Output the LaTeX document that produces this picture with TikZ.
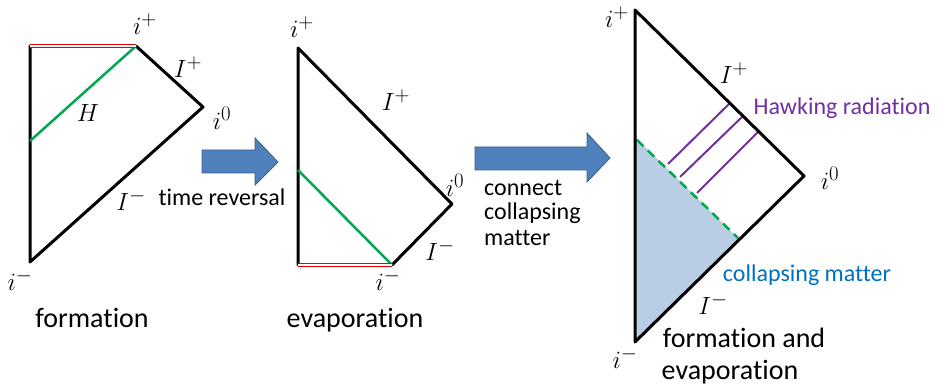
\documentclass[tikz,border=0pt]{standalone}
\usepackage{fontspec}
\setmainfont{Carlito}[Ligatures=NoCommon]
\definecolor{arrowblue}{RGB}{79,129,189}
\definecolor{arrowedge}{RGB}{56,93,138}
\definecolor{shadeblue}{RGB}{185,205,229}
\definecolor{hgreen}{RGB}{0,168,80}
\definecolor{hpurple}{RGB}{112,48,160}
\definecolor{cblue}{RGB}{0,112,192}
\definecolor{hred}{RGB}{230,0,0}
\begin{document}
\begin{tikzpicture}[x=1pt,y=-1pt,
  bl/.style={line width=3pt, line join=round, line cap=round},
  gr/.style={hgreen, line width=2.5pt},
  rd/.style={hred, line width=1.4pt, double=white, double distance=1.2pt},
  pu/.style={hpurple, line width=2pt},
  ml/.style={inner sep=0pt, font=\fontsize{30}{32}\selectfont},
  big/.style={inner sep=0pt, font=\fontsize{28}{30}\selectfont},
  small/.style={inner sep=0pt, font=\fontsize{24}{26}\selectfont},
  barrow/.style={fill=arrowblue, draw=arrowedge, line width=0.8pt, line join=miter}]
\useasboundingbox (0,0) rectangle (937,387);
% ---------- formation ----------
\coordinate (a1t) at (30,46);
\coordinate (a1p) at (136,46);
\coordinate (a1o) at (203,107);
\coordinate (a1b) at (30,262);
\coordinate (a1h) at (30,141);
\draw[bl] (a1t) -- (a1b) -- (a1o) -- (a1p);
\draw[gr] (a1h) -- (a1p);
\draw[rd] (a1t) -- (a1p);
\node[ml] (a1ip) at (145,24) {$i^+$};
\node[ml] (a1Ip) at (188,67) {$I^+$};
\node[ml] (a1H) at (88,113) {$H$};
\node[ml] (a1io) at (222,118) {$i^0$};
\node[ml] (a1Im) at (131,200) {$I^-$};
\node[ml] (a1im) at (20,280) {$i^-$};
\node[big] (a1lab) at (92,318) {formation};
% ---------- arrow 1 ----------
\draw[barrow] (202,150) -- (255,150) -- (255,138) -- (278,162) -- (255,185) -- (255,173) -- (202,173) -- cycle;
\node[small] (tr) at (222,197) {time reversal};
% ---------- evaporation ----------
\coordinate (b2t) at (298,48);
\coordinate (b2o) at (452,204);
\coordinate (b2m) at (392,265);
\coordinate (b2b) at (298,265);
\coordinate (b2h) at (298,170);
\draw[bl] (b2b) -- (b2t) -- (b2o) -- (b2m);
\draw[gr] (b2h) -- (b2m);
\draw[rd] (b2b) -- (b2m);
\node[ml] (b2ip) at (302,27) {$i^+$};
\node[ml] (b2Ip) at (396,100) {$I^+$};
\node[ml] (b2io) at (455,185) {$i^0$};
\node[ml] (b2Im) at (440,250) {$I^-$};
\node[ml] (b2im) at (388,280) {$i^-$};
\node[big] (b2lab) at (355,320) {evaporation};
% ---------- arrow 2 ----------
\draw[barrow] (475,147) -- (587,147) -- (587,133) -- (610,158) -- (587,182) -- (587,170) -- (475,170) -- cycle;
\node[small, anchor=west] (cc1) at (484,188) {connect};
\node[small, anchor=west] (cc2) at (484,213) {collapsing};
\node[small, anchor=west] (cc3) at (484,238) {matter};
% ---------- formation and evaporation ----------
\coordinate (c3t) at (635,10);
\coordinate (c3o) at (804,176);
\coordinate (c3b) at (635,342);
\coordinate (c3h) at (635,137);
\coordinate (c3m) at (740,240);
\coordinate (c3ds) at (637,140);
\coordinate (c3de) at (738,238);
\fill[fill=shadeblue] (c3h) -- (c3m) -- (c3b) -- cycle;
\draw[hgreen, line width=2.5pt, dash pattern=on 9pt off 6pt] (c3ds) -- (c3de);
\coordinate (p1s) at (668,164); \coordinate (p1e) at (730,103);
\coordinate (p2s) at (680,177); \coordinate (p2e) at (743,116);
\coordinate (p3s) at (697,193); \coordinate (p3e) at (758,132);
\draw[pu] (p1s) -- (p1e);
\draw[pu] (p2s) -- (p2e);
\draw[pu] (p3s) -- (p3e);
\draw[bl] (c3b) -- (c3t) -- (c3o) -- cycle;
\node[ml] (c3ip) at (617,17) {$i^+$};
\node[ml] (c3Ip) at (734,73) {$I^+$};
\node[small, text=hpurple] (hr) at (842,108) {Hawking radiation};
\node[ml] (c3io) at (830,178) {$i^0$};
\node[small, text=cblue] (cm) at (807,275) {collapsing matter};
\node[ml] (c3Im) at (713,304) {$I^-$};
\node[ml] (c3im) at (625,358) {$i^-$};
\node[big] (c3lab1) at (744,338) {formation and};
\node[big] (c3lab2) at (730,372) {evaporation};
\end{tikzpicture}
\end{document}
